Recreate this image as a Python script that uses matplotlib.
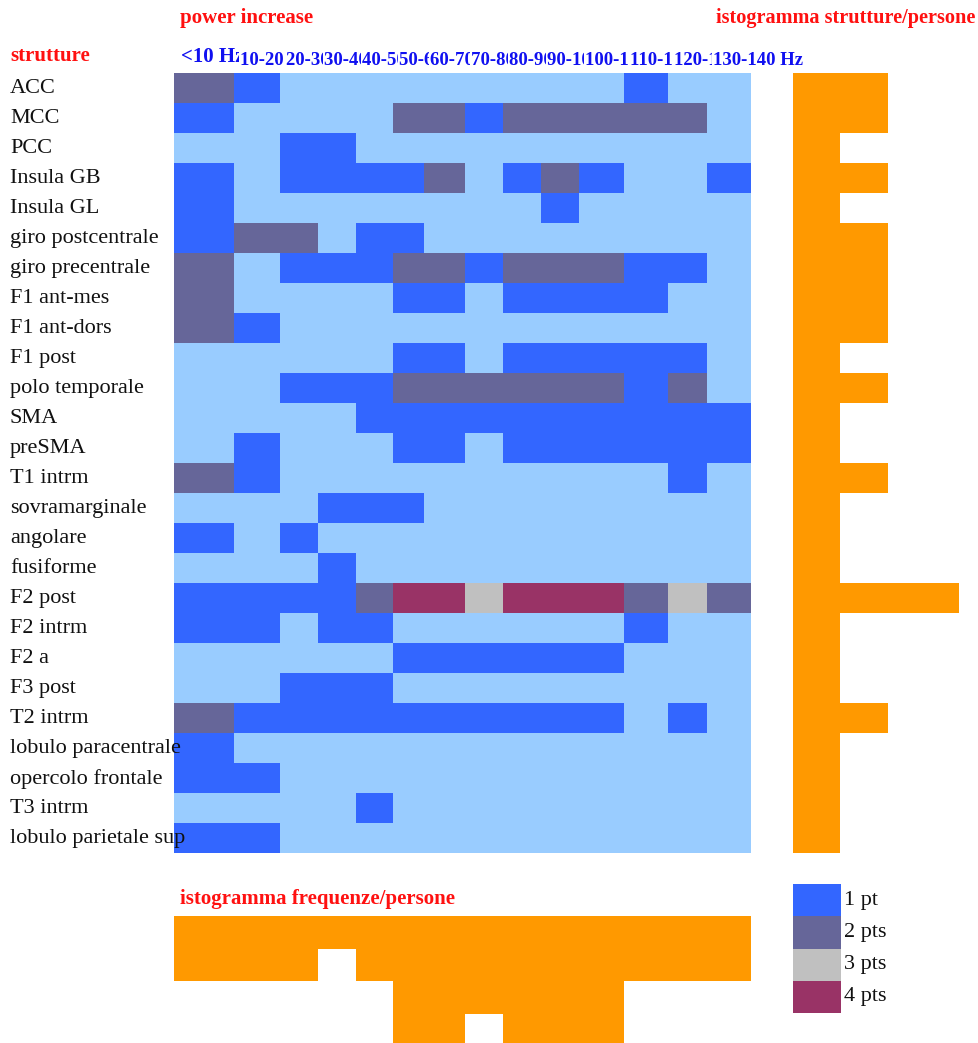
import matplotlib
matplotlib.use("Agg")
import matplotlib.pyplot as plt
import numpy as np
from matplotlib.colors import ListedColormap, BoundaryNorm
from matplotlib.transforms import blended_transform_factory

plt.rcParams['font.family'] = ['Liberation Serif', 'DejaVu Serif']

# brain structures (rows) and frequency bands (columns)
structures = ["ACC", "MCC", "PCC", "Insula GB", "Insula GL", "giro postcentrale",
              "giro precentrale", "F1 ant-mes", "F1 ant-dors", "F1 post",
              "polo temporale", "SMA", "preSMA", "T1 intrm", "sovramarginale",
              "angolare", "fusiforme", "F2 post", "F2 intrm", "F2 a", "F3 post",
              "T2 intrm", "lobulo paracentrale", "opercolo frontale", "T3 intrm",
              "lobulo parietale sup"]
bands = ["<10 Hz", "10-20 Hz", "20-30 Hz", "30-40 Hz", "40-50 Hz", "50-60 Hz",
         "60-70 Hz", "70-80 Hz", "80-90 Hz", "90-100 Hz", "100-110 Hz",
         "110-120 Hz", "120-130 Hz", "130-140 Hz"]

# points of power increase per structure / band (0 = none)
points = [
    [2, 1, 0, 0, 0, 0, 0, 0, 0, 0, 0, 1, 0, 0],
    [1, 0, 0, 0, 0, 2, 2, 1, 2, 2, 2, 2, 2, 0],
    [0, 0, 1, 1, 0, 0, 0, 0, 0, 0, 0, 0, 0, 0],
    [1, 0, 1, 1, 1, 1, 2, 0, 1, 2, 1, 0, 0, 1],
    [1, 0, 0, 0, 0, 0, 0, 0, 0, 1, 0, 0, 0, 0],
    [1, 2, 2, 0, 1, 1, 0, 0, 0, 0, 0, 0, 0, 0],
    [2, 0, 1, 1, 1, 2, 2, 1, 2, 2, 2, 1, 1, 0],
    [2, 0, 0, 0, 0, 1, 1, 0, 1, 1, 1, 1, 0, 0],
    [2, 1, 0, 0, 0, 0, 0, 0, 0, 0, 0, 0, 0, 0],
    [0, 0, 0, 0, 0, 1, 1, 0, 1, 1, 1, 1, 1, 0],
    [0, 0, 1, 1, 1, 2, 2, 2, 2, 2, 2, 1, 2, 0],
    [0, 0, 0, 0, 1, 1, 1, 1, 1, 1, 1, 1, 1, 1],
    [0, 1, 0, 0, 0, 1, 1, 0, 1, 1, 1, 1, 1, 1],
    [2, 1, 0, 0, 0, 0, 0, 0, 0, 0, 0, 0, 1, 0],
    [0, 0, 0, 1, 1, 1, 0, 0, 0, 0, 0, 0, 0, 0],
    [1, 0, 1, 0, 0, 0, 0, 0, 0, 0, 0, 0, 0, 0],
    [0, 0, 0, 1, 0, 0, 0, 0, 0, 0, 0, 0, 0, 0],
    [1, 1, 1, 1, 2, 4, 4, 3, 4, 4, 4, 2, 3, 2],
    [1, 1, 0, 1, 1, 0, 0, 0, 0, 0, 0, 1, 0, 0],
    [0, 0, 0, 0, 0, 1, 1, 1, 1, 1, 1, 0, 0, 0],
    [0, 0, 1, 1, 1, 0, 0, 0, 0, 0, 0, 0, 0, 0],
    [2, 1, 1, 1, 1, 1, 1, 1, 1, 1, 1, 0, 1, 0],
    [1, 0, 0, 0, 0, 0, 0, 0, 0, 0, 0, 0, 0, 0],
    [1, 1, 0, 0, 0, 0, 0, 0, 0, 0, 0, 0, 0, 0],
    [0, 0, 0, 0, 1, 0, 0, 0, 0, 0, 0, 0, 0, 0],
    [1, 1, 0, 0, 0, 0, 0, 0, 0, 0, 0, 0, 0, 0],
]

# persons per structure and per frequency band
persons_structure = [4, 4, 2, 4, 2, 4, 4, 4, 4, 2, 4, 2, 2, 4, 2, 2, 2, 7, 2, 2, 2, 4, 2, 2, 2, 2]
persons_band = [2, 2, 2, 1, 2, 4, 4, 3, 4, 4, 4, 2, 2, 2]

legend_labels = ["1 pt", "2 pts", "3 pts", "4 pts"]

# layout (pixels)
W, H = 979, 1043
col_width = [60, 46, 38, 38, 37, 31, 41, 38, 38, 38, 45, 44, 39, 44]
px_struct = 23.7    # px per person, right histogram
px_band = 32.5      # px per person, bottom histogram

cell_colors = ["#99CCFF", "#3366FF", "#666699", "#C0C0C0", "#993366"]
orange = "#FF9900"
red = "#FF1010"
head_blue = "#1010F0"


def box(x0, y0, x1, y1):
    return [x0 / W, 1 - y1 / H, (x1 - x0) / W, (y1 - y0) / H]


fig = plt.figure(figsize=(W / 100, H / 100), dpi=100)

# heatmap
ax = fig.add_axes(box(174, 73, 751, 853))
edges = np.concatenate([[0], np.cumsum(col_width)])
cmap = ListedColormap(cell_colors)
norm = BoundaryNorm(np.arange(-0.5, 5.5), cmap.N)
ax.pcolormesh(edges, np.arange(len(structures) + 1), np.array(points),
              cmap=cmap, norm=norm, antialiased=False)
ax.set_xlim(0, edges[-1])
ax.set_ylim(len(structures), 0)
ax.axis('off')

# structure names on the left
trans = blended_transform_factory(fig.transFigure, ax.transData)
for i, name in enumerate(structures):
    ax.text(10 / W, i + 0.52, name, transform=trans, ha='left', va='center',
            fontsize=16, color='#111111', clip_on=False, zorder=5)

# band headers, each one masking the overflow of the previous
for j, band in enumerate(bands):
    big = j == 0
    ax.annotate(band, xy=(edges[j], 0), xytext=(5 if big else 4, 8 if big else 6),
                textcoords='offset points', ha='left', va='baseline',
                fontsize=15 if big else 13.5, fontweight='bold', color=head_blue,
                annotation_clip=False,
                bbox=dict(facecolor='white', edgecolor='none', pad=0.5))

# histogram: persons per structure
axr = fig.add_axes(box(793, 73, 979, 853))
axr.barh(np.arange(len(structures)) + 0.5, persons_structure, height=1.0,
         color=orange, linewidth=0)
axr.set_xlim(0, 186 / px_struct)
axr.set_ylim(len(structures), 0)
axr.axis('off')

# histogram: persons per frequency band
axb = fig.add_axes(box(174, 916, 751, 1043))
axb.bar(edges[:-1], persons_band, width=col_width, align='edge',
        color=orange, linewidth=0)
axb.set_xlim(0, edges[-1])
axb.set_ylim(127 / px_band, 0)
axb.axis('off')

# legend
axl = fig.add_axes(box(793, 884, 841, 1013))
axl.barh(np.arange(len(legend_labels)) + 0.5, [1] * len(legend_labels), height=1.0,
         color=cell_colors[1:], linewidth=0)
axl.set_xlim(0, 1)
axl.set_ylim(len(legend_labels), 0)
axl.axis('off')
for i, lbl in enumerate(legend_labels):
    axl.text(1.06, i + 0.5, lbl, va='center', ha='left', fontsize=16,
             color='#111111', clip_on=False)

# titles
fig.text(180 / W, 1 - 18 / H, "power increase", color=red, fontsize=15,
         fontweight='bold', va='center', ha='left')
fig.text(10 / W, 1 - 56 / H, "strutture", color=red, fontsize=15,
         fontweight='bold', va='center', ha='left')
fig.text(975 / W, 1 - 18 / H, "istogramma strutture/persone", color=red,
         fontsize=14.6, fontweight='bold', va='center', ha='right')
fig.text(180 / W, 1 - 899 / H, "istogramma frequenze/persone", color=red,
         fontsize=15, fontweight='bold', va='center', ha='left')

fig.savefig("out.png", dpi=100, facecolor='white')
